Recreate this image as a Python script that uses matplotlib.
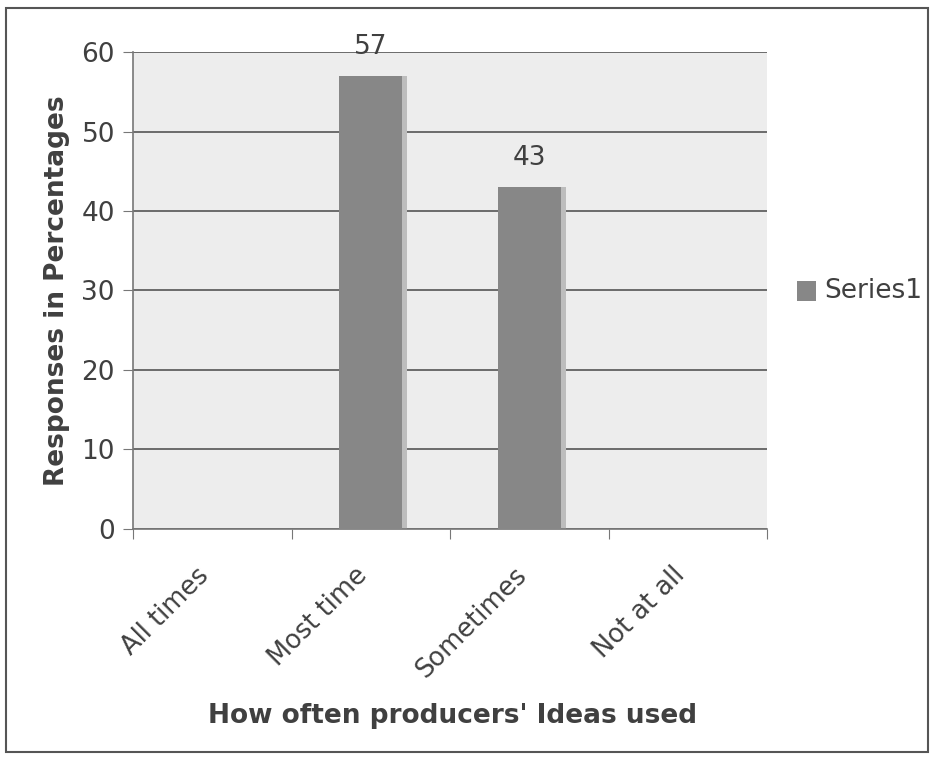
import matplotlib.pyplot as plt
import matplotlib.transforms as mtransforms
from matplotlib.patches import Rectangle

categories = ["All times", "Most time", "Sometimes", "Not at all"]
values = [0, 57, 43, 0]
labels = ["", "57", "43", ""]
yticks = [0, 10, 20, 30, 40, 50, 60]

text_col = "#404040"
bar_col = "#878787"

fig = plt.figure(figsize=(9.34, 7.57), dpi=100)
fig.patches.append(Rectangle((0.006, 0.007), 0.988, 0.982, transform=fig.transFigure,
                             fill=False, edgecolor="#555555", linewidth=1.5))

ax = fig.add_axes([0.1424, 0.3012, 0.6788, 0.6301])
ax.set_facecolor("#ededed")

x = range(len(categories))
# soft shadow behind bars
ax.bar([i + 0.03 for i in x], values, width=0.4, color="#bdbdbd", zorder=2)
bars = ax.bar(x, values, width=0.4, color=bar_col, zorder=3)
for b, lab in zip(bars, labels):
    if lab:
        ax.text(b.get_x() + b.get_width() / 2, b.get_height() + 2.0, lab,
                ha="center", va="bottom", fontsize=19, color=text_col)

ax.set_xlim(-0.5, 3.5)
ax.set_ylim(0, 60)
ax.set_yticks(yticks)
ax.yaxis.grid(True, color="#555555", linewidth=1.2, zorder=1)
ax.set_axisbelow(True)
ax.tick_params(axis="y", length=7, color="#777777", labelsize=19, labelcolor=text_col, pad=6)

ax.set_xticks([i - 0.5 for i in range(len(categories) + 1)], minor=False)
ax.set_xticklabels([""] * (len(categories) + 1))
ax.tick_params(axis="x", length=7, color="#777777", direction="out")
ax.set_xticks(list(x), minor=True)
ax.set_xticklabels(categories, minor=True, rotation=45, ha="right", rotation_mode="anchor",
                   fontsize=18.5, color=text_col)
ax.tick_params(axis="x", which="minor", length=0, pad=24)
shift = mtransforms.ScaledTranslation(-0.16, 0, fig.dpi_scale_trans)
for t in ax.get_xticklabels(minor=True):
    t.set_transform(t.get_transform() + shift)

for s in ["top", "right"]:
    ax.spines[s].set_visible(False)
for s in ["left", "bottom"]:
    ax.spines[s].set_color("#777777")
    ax.spines[s].set_linewidth(1.2)

ax.set_ylabel("Responses in Percentages", fontsize=19, fontweight="bold", color=text_col, labelpad=8)
fig.text(0.485, 0.045, "How often producers' Ideas used", ha="center", fontsize=19,
         fontweight="bold", color=text_col)

fig.patches.append(Rectangle((0.853, 0.603), 0.021, 0.026, transform=fig.transFigure,
                             facecolor=bar_col, edgecolor="none"))
fig.text(0.882, 0.615, "Series1", va="center", fontsize=19, color=text_col)

fig.savefig("out.png", dpi=100)
